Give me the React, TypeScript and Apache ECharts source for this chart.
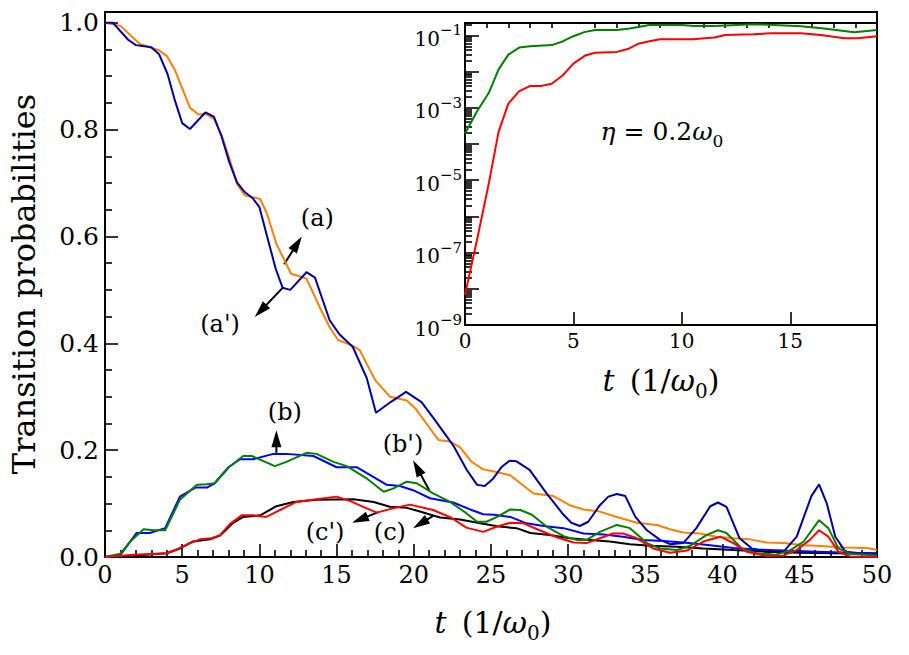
import React, { useEffect, useRef } from "react";
import * as echarts from "echarts";

// ---- main panel data: [t, probability] ----
const curveA: [number, number][] = [
  [0, 1.0], [1, 0.994], [2.25, 0.96], [3.45, 0.949], [4, 0.938], [4.55, 0.91], [5.05, 0.874], [5.5, 0.841],
  [6.05, 0.828], [6.55, 0.829], [7.05, 0.82], [7.55, 0.79], [8.1, 0.742], [8.55, 0.698], [9.05, 0.677],
  [10.05, 0.67], [10.5, 0.642], [11.1, 0.586], [12.05, 0.53], [12.65, 0.525], [13.05, 0.521], [13.9, 0.468],
  [14.55, 0.43], [15.1, 0.406], [16, 0.396], [16.5, 0.387], [17.5, 0.331], [18.45, 0.3], [19.55, 0.293],
  [20.1, 0.278], [21.6, 0.219], [22.35, 0.216], [23, 0.205], [23.75, 0.178], [24.5, 0.164], [25.35, 0.159],
  [26.25, 0.153], [27.75, 0.119], [29.05, 0.114], [30.1, 0.097], [31, 0.089], [32.05, 0.085], [33.15, 0.075],
  [34.45, 0.064], [35.75, 0.06], [36.6, 0.052], [37.45, 0.046], [38.55, 0.044], [39.6, 0.038], [40.7, 0.035],
  [41.75, 0.033], [42.85, 0.027], [43.95, 0.026], [45.25, 0.022], [46.1, 0.021], [47.8, 0.018], [49.35, 0.017],
  [50, 0.013],
];
const curveAp: [number, number][] = [
  [0, 1.0], [0.5, 1.0], [1.5, 0.968], [2, 0.958], [3, 0.954], [3.5, 0.941], [4.05, 0.904], [4.5, 0.857],
  [5, 0.812], [5.5, 0.801], [6.5, 0.832], [7.05, 0.824], [7.55, 0.787], [8.05, 0.739], [8.55, 0.701],
  [9.05, 0.683], [9.55, 0.672], [10, 0.655], [10.5, 0.6], [11.05, 0.54], [11.5, 0.504], [12, 0.5],
  [13.05, 0.533], [13.6, 0.523], [14.55, 0.443], [15.15, 0.418], [16.05, 0.393], [16.95, 0.335], [17.55, 0.27],
  [18.5, 0.29], [19.5, 0.309], [20.5, 0.29], [21.3, 0.259], [22.55, 0.209], [23.45, 0.162], [24.1, 0.135],
  [24.6, 0.133], [25.15, 0.147], [25.7, 0.169], [26.2, 0.18], [26.65, 0.179], [27.5, 0.163], [28.6, 0.119],
  [29.7, 0.079], [30.2, 0.064], [30.75, 0.058], [31.3, 0.066], [32.05, 0.097], [32.6, 0.113], [33.15, 0.118],
  [33.7, 0.114], [34.35, 0.075], [35.1, 0.05], [35.95, 0.032], [36.6, 0.024], [37.45, 0.026], [38.3, 0.054],
  [39.2, 0.095], [39.7, 0.102], [40.25, 0.094], [41.1, 0.035], [41.9, 0.016], [42.85, 0.01], [43.95, 0.01],
  [44.8, 0.038], [45.75, 0.114], [46.25, 0.136], [46.75, 0.1], [47.3, 0.038], [47.95, 0.01], [48.9, 0.007],
  [50, 0.006],
];
const curveB: [number, number][] = [
  [0, 0], [1, 0.004], [2.05, 0.045], [2.9, 0.045], [3.9, 0.054], [4.85, 0.113], [5.85, 0.13], [6.6, 0.13],
  [7.1, 0.138], [8, 0.168], [8.75, 0.183], [9.6, 0.183], [10.9, 0.193], [11.75, 0.193], [13.5, 0.189],
  [15, 0.168], [16.3, 0.168], [18.25, 0.135], [19.1, 0.133], [19.95, 0.125], [21.05, 0.11], [22.55, 0.102],
  [23.65, 0.089], [24.5, 0.08], [25.2, 0.079], [26.25, 0.075], [27.3, 0.063], [28.4, 0.058], [29.7, 0.054],
  [31, 0.044], [32.3, 0.042], [33.55, 0.038], [34.85, 0.032], [36.15, 0.03], [37.45, 0.027], [39.2, 0.022],
  [40.7, 0.017], [42.2, 0.014], [43.95, 0.012], [46.1, 0.01], [48.25, 0.008], [50, 0.007],
];
const curveBp: [number, number][] = [
  [0, 0], [1, 0.006], [1.6, 0.028], [2.5, 0.052], [3.15, 0.05], [3.9, 0.05], [4.85, 0.107], [5.95, 0.135],
  [6.6, 0.136], [7.1, 0.138], [8.1, 0.17], [8.95, 0.189], [9.5, 0.189], [10.15, 0.181], [11, 0.17],
  [11.75, 0.178], [13.05, 0.195], [13.7, 0.193], [14.8, 0.178], [15.65, 0.17], [16.95, 0.147], [18.05, 0.122],
  [18.65, 0.128], [19.55, 0.141], [20.2, 0.138], [21.25, 0.119], [22.35, 0.103], [23.4, 0.082], [24.1, 0.066],
  [24.7, 0.066], [25.4, 0.075], [26.25, 0.089], [26.9, 0.088], [27.65, 0.079], [28.6, 0.057], [29.7, 0.039],
  [30.55, 0.032], [31.2, 0.032], [32.05, 0.047], [33.15, 0.06], [34, 0.054], [35.1, 0.026], [35.95, 0.016],
  [37.05, 0.013], [37.9, 0.021], [38.95, 0.041], [39.7, 0.05], [40.25, 0.045], [41.25, 0.016], [42.2, 0.007],
  [43.4, 0.004], [44.35, 0.012], [45.25, 0.029], [46.25, 0.069], [46.85, 0.054], [47.5, 0.016], [48.25, 0.006],
  [50, 0.003],
];
const curveC: [number, number][] = [
  [0, 0], [2, 0.003], [4, 0.007], [4.85, 0.016], [5.7, 0.029], [6.8, 0.033], [7.45, 0.04], [8.3, 0.064],
  [8.95, 0.075], [10.05, 0.078], [11.1, 0.095], [12.2, 0.103], [13.7, 0.107], [16.1, 0.108], [17.4, 0.103],
  [18.45, 0.094], [19.55, 0.092], [20.4, 0.085], [21.7, 0.074], [23, 0.07], [24.3, 0.063], [25.5, 0.057],
  [26.65, 0.054], [27.55, 0.045], [28.8, 0.041], [30.1, 0.035], [31.4, 0.032], [32.7, 0.029], [34, 0.024],
  [35.3, 0.021], [37.05, 0.019], [38.75, 0.016], [40.7, 0.013], [42.85, 0.01], [45, 0.008], [47.15, 0.007],
  [50, 0.006],
];
const curveCp: [number, number][] = [
  [0, 0], [1.85, 0.004], [4, 0.007], [4.55, 0.013], [5.5, 0.026], [6.15, 0.033], [6.9, 0.035], [7.45, 0.041],
  [8.1, 0.062], [8.85, 0.078], [9.6, 0.078], [10.45, 0.075], [11.35, 0.088], [12.4, 0.103], [13.7, 0.108],
  [15, 0.113], [15.85, 0.105], [16.95, 0.091], [17.6, 0.083], [18.65, 0.091], [19.75, 0.098], [21.25, 0.088],
  [22.4, 0.074], [23.4, 0.055], [24.5, 0.047], [25.4, 0.057], [26.25, 0.064], [27.1, 0.063], [28.15, 0.05],
  [29.25, 0.037], [30.35, 0.027], [31.2, 0.026], [32.05, 0.035], [32.9, 0.044], [33.55, 0.044], [34.45, 0.035],
  [35.5, 0.016], [36.6, 0.008], [37.7, 0.012], [38.75, 0.029], [39.85, 0.038], [40.7, 0.026], [41.55, 0.01],
  [42.85, 0.002], [43.95, 0.003], [44.8, 0.013], [45.65, 0.032], [46.25, 0.05], [46.85, 0.038], [47.5, 0.01],
  [48.25, 0.001], [50, 0],
];

// ---- inset data (log scale) ----
const insetGreen: [number, number][] = [
  [0, 1.95e-4], [0.55, 7.9e-4], [1.1, 2.6e-3], [1.55, 1.15e-2], [2, 2.95e-2], [2.5, 4.6e-2], [3, 5.0e-2],
  [4, 5.4e-2], [4.5, 6.8e-2], [5, 9.5e-2], [5.5, 0.123], [6, 0.141], [7, 0.141], [7.6, 0.155], [8.5, 0.195],
  [10, 0.195], [10.55, 0.182], [11.5, 0.182], [13.3, 0.204], [14.25, 0.195], [15.5, 0.178], [16.55, 0.155],
  [17.95, 0.123], [19, 0.141],
];
const insetRed: [number, number][] = [
  [0, 6.8e-9], [0.55, 2.2e-7], [1.1, 8.3e-6], [1.55, 2.2e-4], [2, 1.3e-3], [2.5, 2.9e-3], [3, 4.0e-3],
  [3.5, 4.0e-3], [4, 4.6e-3], [4.5, 7.8e-3], [5, 1.66e-2], [5.55, 2.8e-2], [6, 3.3e-2], [7, 3.5e-2],
  [7.55, 4.3e-2], [8, 5.9e-2], [8.5, 6.9e-2], [9, 7.8e-2], [10.5, 7.8e-2], [11.5, 8.7e-2], [12, 0.102],
  [13.3, 0.107], [14.1, 0.115], [15.5, 0.115], [16.4, 0.102], [17.5, 8.3e-2], [18.1, 8.3e-2], [19, 9.5e-2],
];

// ---- ticks ----
const mainYMajor = [0, 0.2, 0.4, 0.6, 0.8, 1.0];
const mainYMinor = [0.05, 0.1, 0.15, 0.25, 0.3, 0.35, 0.45, 0.5, 0.55, 0.65, 0.7, 0.75, 0.85, 0.9, 0.95];
const insetXMajor = [0, 5, 10, 15];
const insetXMinor = [1, 2, 3, 4, 6, 7, 8, 9, 11, 12, 13, 14, 16, 17, 18, 19];
const insetYLabels = [1e-9, 1e-7, 1e-5, 1e-3, 1e-1];
const insetYDecades = [1e-9, 1e-8, 1e-7, 1e-6, 1e-5, 1e-4, 1e-3, 1e-2, 1e-1];
const insetYMinor: number[] = [];
for (const d of [1e-9, 1e-8, 1e-7, 1e-6, 1e-5, 1e-4, 1e-3, 1e-2, 1e-1]) {
  for (const m of [2, 3, 4, 5, 6, 7, 8, 9]) insetYMinor.push(m * d);
}

// ---- annotations in data coordinates ----
const arrowLabels = ["(a)", "(a')", "(b)", "(b')", "(c')", "(c)"];
const arrowTails: [number, number][] = [[11.6, 0.548], [11.55, 0.505], [11.1, 0.195], [21.0, 0.125], [17.7, 0.084], [21.25, 0.077]];
const arrowTips: [number, number][] = [[12.75, 0.6], [9.7, 0.449], [11.1, 0.237], [19.95, 0.181], [16.0, 0.064], [19.95, 0.054]];
const labelPos: [number, number][] = [[13.75, 0.634], [7.45, 0.437], [11.65, 0.271], [19.3, 0.211], [14.25, 0.047], [18.45, 0.047]];

const FONT = "DejaVu Serif";
const BLACK = "#000";

export default function App() {
  const ref = useRef<HTMLDivElement>(null);
  useEffect(() => {
    const chart = echarts.init(ref.current!, null, { renderer: "svg" });
    const tickStyle = { color: BLACK, width: 1.6 };
    const axisLine = { show: true, lineStyle: { color: BLACK, width: 2 } };
    const line = (data: [number, number][], color: string, xi: number, yi: number) => ({
      type: "line",
      data,
      xAxisIndex: xi,
      yAxisIndex: yi,
      showSymbol: false,
      symbol: "none",
      lineStyle: { color, width: 2 },
      silent: true,
    });
    chart.setOption({
      animation: false,
      backgroundColor: "#fff",
      textStyle: { fontFamily: FONT, color: BLACK },
      grid: [
        { left: 105, top: 12, width: 772, height: 545, show: true, borderColor: BLACK, borderWidth: 2 },
        { left: 465, top: 23, width: 412, height: 302, show: true, borderColor: BLACK, borderWidth: 2, backgroundColor: "#fff" },
      ],
      xAxis: [
        {
          gridIndex: 0, type: "value", min: 0, max: 50, interval: 5,
          axisLine, splitLine: { show: false },
          axisTick: { inside: true, length: 13, lineStyle: tickStyle },
          minorTick: { show: true, splitNumber: 5, length: 7, lineStyle: tickStyle },
          axisLabel: { fontFamily: FONT, fontSize: 24, color: BLACK, margin: 6 },
        },
        {
          gridIndex: 1, type: "value", min: 0, max: 19,
          axisLine, splitLine: { show: false },
          axisTick: { inside: true, length: 13, lineStyle: tickStyle, customValues: insetXMajor },
          axisLabel: { fontFamily: FONT, fontSize: 20, color: BLACK, margin: 6, customValues: insetXMajor },
        },
        {
          gridIndex: 1, type: "value", min: 0, max: 19,
          axisLine, splitLine: { show: false },
          axisTick: { inside: true, length: 5, lineStyle: tickStyle, customValues: insetXMinor },
          axisLabel: { show: false },
        },
      ],
      yAxis: [
        {
          gridIndex: 0, type: "value", min: 0, max: 1.02, position: "left",
          axisLine, splitLine: { show: false },
          axisTick: { inside: true, length: 13, lineStyle: tickStyle, customValues: mainYMajor },
          axisLabel: {
            fontFamily: FONT, fontSize: 25, color: BLACK, margin: 6, customValues: mainYMajor,
            formatter: (v: number) => v.toFixed(1),
          },
        },
        {
          gridIndex: 0, type: "value", min: 0, max: 1.02, position: "left",
          axisLine, splitLine: { show: false },
          axisTick: { inside: true, length: 7, lineStyle: tickStyle, customValues: mainYMinor },
          axisLabel: { show: false },
        },
        {
          gridIndex: 1, type: "log", logBase: 10, min: 1e-9, max: 0.22, position: "left",
          axisLine, splitLine: { show: false },
          axisTick: { inside: true, length: 14, lineStyle: tickStyle, customValues: insetYDecades },
          axisLabel: {
            customValues: insetYLabels, margin: 3, color: BLACK, padding: [7, 0, 0, 0],
            formatter: (v: number) => `{b|10}{e|\u2212${Math.round(-Math.log10(v))}}`,
            rich: {
              b: { fontFamily: FONT, fontSize: 20, lineHeight: 32, color: BLACK },
              e: { fontFamily: FONT, fontSize: 15, lineHeight: 14, verticalAlign: "top", color: BLACK },
            },
          },
        },
        {
          gridIndex: 1, type: "log", logBase: 10, min: 1e-9, max: 0.22, position: "left",
          axisLine, splitLine: { show: false },
          axisTick: { inside: true, length: 7, lineStyle: tickStyle, customValues: insetYMinor },
          axisLabel: { show: false },
        },
      ],
      series: [
        line(curveA, "#ff8000", 0, 0),
        line(curveAp, "#0000a0", 0, 0),
        line(curveC, "#000000", 0, 0),
        line(curveB, "#0000ff", 0, 0),
        line(curveBp, "#008000", 0, 0),
        line(curveCp, "#ff0000", 0, 0),
        line(insetGreen, "#008000", 1, 2),
        line(insetRed, "#ff0000", 1, 2),
      ],
    });

    const toPx = (p: [number, number]) =>
      chart.convertToPixel({ xAxisIndex: 0, yAxisIndex: 0 } as any, p) as number[];

    const graphics: any[] = [];
    const titleRich = (size: number, sub: number) => ({
      i: { fontFamily: FONT, fontStyle: "italic", fontSize: size, lineHeight: size + 6, verticalAlign: "top", fill: BLACK },
      r: { fontFamily: FONT, fontSize: size, lineHeight: size + 6, verticalAlign: "top", fill: BLACK },
      s: { fontFamily: FONT, fontSize: sub, lineHeight: sub, verticalAlign: "bottom", fill: BLACK },
    });
    graphics.push({
      type: "text", x: 493, y: 625,
      style: { text: "{i|t}{r|\u2002(1/}{i|ω}{s|0}{r|)}", rich: titleRich(30, 20), align: "center", verticalAlign: "middle" },
    });
    graphics.push({
      type: "text", x: 661, y: 383,
      style: { text: "{i|t}{r|\u2002(1/}{i|ω}{s|0}{r|)}", rich: titleRich(30, 20), align: "center", verticalAlign: "middle" },
    });
    graphics.push({
      type: "text", x: 662, y: 134,
      style: { text: "{i|η}{r| = 0.2}{i|ω}{s|0}", rich: titleRich(25, 17), align: "center", verticalAlign: "middle" },
    });
    graphics.push({
      type: "text", x: 24, y: 284, rotation: Math.PI / 2,
      style: { text: "Transition probabilities", font: `32px "${FONT}"`, fill: BLACK, align: "center", verticalAlign: "middle" },
    });

    const HL = 17, HW = 10;
    arrowTails.forEach((tail, k) => {
      const p = toPx(tail);
      const q = toPx(arrowTips[k]);
      const dx = q[0] - p[0], dy = q[1] - p[1];
      const len = Math.hypot(dx, dy);
      const ux = dx / len, uy = dy / len;
      const bx = q[0] - ux * HL, by = q[1] - uy * HL;
      const nx = -uy, ny = ux;
      graphics.push({
        type: "line", silent: true,
        shape: { x1: p[0], y1: p[1], x2: bx + ux * 2, y2: by + uy * 2 },
        style: { stroke: BLACK, lineWidth: 2 },
      });
      graphics.push({
        type: "polygon", silent: true,
        shape: { points: [[q[0], q[1]], [bx + nx * HW / 2, by + ny * HW / 2], [bx - nx * HW / 2, by - ny * HW / 2]] },
        style: { fill: BLACK },
      });
      const t = toPx(labelPos[k]);
      graphics.push({
        type: "text", x: t[0], y: t[1],
        style: { text: arrowLabels[k], font: `24px "${FONT}"`, fill: BLACK, align: "center", verticalAlign: "middle" },
      });
    });
    chart.setOption({ graphic: graphics });

    return () => chart.dispose();
  }, []);
  return <div ref={ref} style={{ position: "absolute", left: 0, top: 0, width: 909, height: 655 }} />;
}
